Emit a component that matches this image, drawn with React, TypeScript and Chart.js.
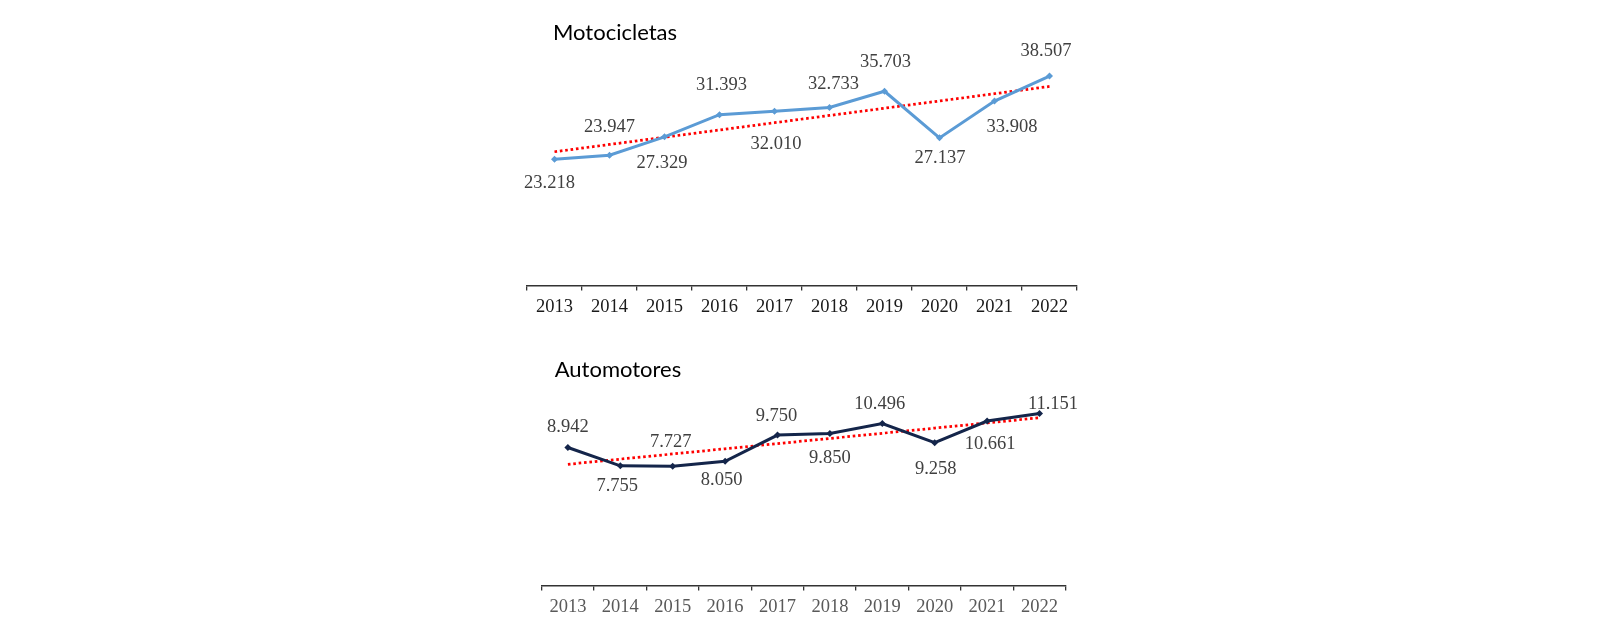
import React, { useEffect, useRef } from "react";
import { Chart, registerables } from "chart.js";

Chart.register(...registerables);

// ---------- data ----------
const years = ["2013", "2014", "2015", "2016", "2017", "2018", "2019", "2020", "2021", "2022"];
const motoValues = [23218, 23947, 27329, 31393, 32010, 32733, 35703, 27137, 33908, 38507];
const autoValues = [8942, 7755, 7727, 8050, 9750, 9850, 10496, 9258, 10661, 11151];
const motoTitle = "Motocicletas";
const autoTitle = "Automotores";

// ---------- label placement (style, not data) ----------
const motoLabelOffsets: [number, number][] = [
  [-5, 24], [0, -28.5], [-2.5, 26], [2, -30], [1.5, 33],
  [4, -23.5], [1, -29.5], [0.5, 20], [17.5, 26.5], [-3.5, -25],
];
const autoLabelOffsets: [number, number][] = [
  [0, -20.5], [-3, 20], [-2, -24.5], [-3.5, 19], [-1, -18.5],
  [0, 24.5], [-2.5, -19.5], [1, 26.5], [3, 23.5], [13.5, -9],
];

function formatThousands(n: number): string {
  const s = Math.round(n).toString();
  return s.replace(/\B(?=(\d{3})+(?!\d))/g, ".");
}

function linearTrend(values: number[]): number[] {
  const n = values.length;
  let sx = 0, sy = 0, sxy = 0, sxx = 0;
  values.forEach((v, i) => { sx += i; sy += v; sxy += i * v; sxx += i * i; });
  const slope = (n * sxy - sx * sy) / (n * sxx - sx * sx);
  const intercept = (sy - slope * sx) / n;
  return values.map((_, i) => intercept + slope * i);
}

type PanelProps = {
  title: string;
  values: number[];
  offsets: [number, number][];
  lineColor: string;
  tickColor: string;
  yMax: number;
  height: number;
  padding: { left: number; right: number; top: number; bottom: number };
  titleDx: number;
  titleBaseline: number;
};

const labelPlugin = {
  id: "pointLabels",
  afterDatasetsDraw(chart: any, _args: any, opts: any) {
    const ctx = chart.ctx;
    const meta = chart.getDatasetMeta(0);
    ctx.save();
    ctx.font = "18.5px 'Liberation Serif', serif";
    ctx.fillStyle = "#404040";
    ctx.textAlign = "center";
    ctx.textBaseline = "middle";
    meta.data.forEach((pt: any, i: number) => {
      const v = chart.data.datasets[0].data[i] as number;
      const [dx, dy] = opts.offsets[i] || [0, 0];
      ctx.fillText(formatThousands(v), pt.x + dx, pt.y + dy);
    });
    ctx.restore();
  },
};

const titlePlugin = {
  id: "panelTitle",
  afterDraw(chart: any, _args: any, opts: any) {
    const ctx = chart.ctx;
    ctx.save();
    ctx.font = "22px Lato, 'Open Sans', sans-serif";
    ctx.fillStyle = "#000000";
    ctx.textAlign = "left";
    ctx.textBaseline = "alphabetic";
    ctx.fillText(opts.text, chart.chartArea.left + opts.dx, opts.baseline);
    ctx.restore();
  },
};

function Panel(p: PanelProps) {
  const ref = useRef<HTMLCanvasElement | null>(null);
  useEffect(() => {
    if (!ref.current) return;
    const trend = linearTrend(p.values);
    const chart = new Chart(ref.current, {
      type: "line",
      data: {
        labels: years,
        datasets: [
          {
            data: p.values,
            borderColor: p.lineColor,
            backgroundColor: p.lineColor,
            borderWidth: 3,
            pointStyle: "rectRot",
            pointRadius: 3.5,
            pointBorderWidth: 0,
            pointBackgroundColor: p.lineColor,
            tension: 0,
            order: 1,
          },
          {
            data: trend,
            borderColor: "#FF0000",
            borderWidth: 2.75,
            borderDash: [2.6, 2.8],
            pointRadius: 0,
            tension: 0,
            order: 2,
          },
        ],
      },
      options: {
        animation: false,
        responsive: false,
        maintainAspectRatio: false,
        layout: { padding: p.padding },
        plugins: {
          legend: { display: false },
          tooltip: { enabled: false },
          title: { display: false },
          pointLabels: { offsets: p.offsets },
          panelTitle: { text: p.title, dx: p.titleDx, baseline: p.titleBaseline },
        } as any,
        scales: {
          x: {
            type: "category",
            offset: true,
            grid: {
              display: true,
              drawOnChartArea: false,
              drawTicks: true,
              tickLength: 5,
              offset: true,
              color: "#333333",
              lineWidth: 1.3,
            },
            border: { display: true, color: "#333333", width: 1.5 },
            ticks: {
              color: p.tickColor,
              font: { family: "'Liberation Serif', serif", size: 18.5 },
              padding: 6,
              maxRotation: 0,
              autoSkip: false,
            },
            afterFit: (s: any) => { s.height = 40; },
          },
          y: { display: false, min: 0, max: p.yMax },
        },
      },
      plugins: [labelPlugin, titlePlugin],
    });
    return () => chart.destroy();
  }, []);
  return (
    <canvas
      ref={ref}
      width={1600}
      height={p.height}
      style={{ display: "block", width: 1600, height: p.height }}
    />
  );
}

export default function App() {
  return (
    <div style={{ position: "absolute", left: 0, top: 0, width: 1600, height: 630, background: "#ffffff" }}>
      <Panel
        title={motoTitle}
        values={motoValues}
        offsets={motoLabelOffsets}
        lineColor="#5B9BD5"
        tickColor="#1a1a1a"
        yMax={45000}
        height={330}
        padding={{ left: 527, right: 523, top: 40.7, bottom: 4.5 }}
        titleDx={26}
        titleBaseline={40}
      />
      <Panel
        title={autoTitle}
        values={autoValues}
        offsets={autoLabelOffsets}
        lineColor="#14254A"
        tickColor="#595959"
        yMax={14000}
        height={300}
        padding={{ left: 541.7, right: 534.3, top: 39.5, bottom: 4.5 }}
        titleDx={13}
        titleBaseline={46.7}
      />
    </div>
  );
}
